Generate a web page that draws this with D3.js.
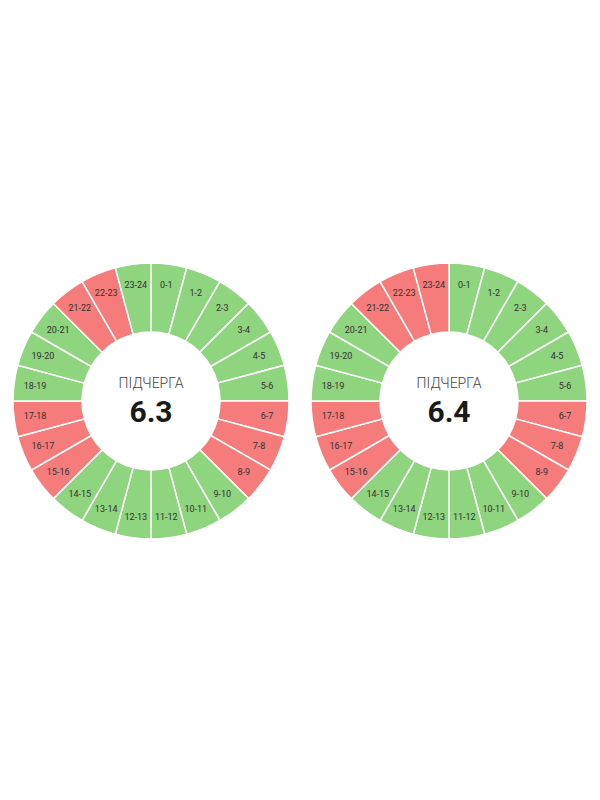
<!DOCTYPE html>
<html><head><meta charset="utf-8">
<script src="https://cdn.jsdelivr.net/npm/d3@7"></script>
<style>body{margin:0;background:#fff}</style></head>
<body><div id="main"></div>
<script>
const hours = d3.range(24).map(i => `${i}-${i + 1}`);
const titles = ["6.3", "6.4"];
// 1 = off (red), 0 = on (green)
const offLeft = [0,0,0,0,0,0,1,1,1,0,0,0,0,0,0,1,1,1,0,0,0,1,1,0];
const offRight = [0,0,0,0,0,0,1,1,1,0,0,0,0,0,0,1,1,1,0,0,0,1,1,1];
const charts = [{title: titles[0], off: offLeft, cx: 151}, {title: titles[1], off: offRight, cx: 449}];

const W = 600, H = 800, cy = 401, R = 138, r0 = 69;
const svg = d3.select("#main").append("svg").attr("width", W).attr("height", H);
const ang = d3.scaleLinear().domain([0, 24]).range([0, 2 * Math.PI]);

function pt(a, r) { return [r * Math.sin(a), -r * Math.cos(a)]; }

charts.forEach(c => {
  const g = svg.append("g").attr("transform", `translate(${c.cx},${cy})`);
  const arc = d3.arc().innerRadius(r0).outerRadius(R);
  g.selectAll("path").data(hours).enter().append("path")
    .attr("d", (d, i) => arc({startAngle: ang(i), endAngle: ang(i + 1)}))
    .attr("fill", (d, i) => c.off[i] ? "#f67b7b" : "#8fd47e")
    .attr("stroke", "#fff").attr("stroke-width", 1.5);
  g.selectAll("text.h").data(hours).enter().append("text")
    .attr("class", "h")
    .attr("x", (d, i) => pt(ang(i + 0.5), 117)[0])
    .attr("y", (d, i) => pt(ang(i + 0.5), 117)[1])
    .attr("text-anchor", "middle").attr("dy", "0.35em")
    .style("font", "9px Roboto, sans-serif").attr("fill", "#333")
    .text(d => d);
  g.append("text").attr("y", -13).attr("text-anchor", "middle")
    .style("font", "300 14px Roboto, sans-serif").attr("fill", "#444").text("ПІДЧЕРГА");
  g.append("text").attr("y", 21).attr("text-anchor", "middle")
    .style("font", "bold 30px Roboto, sans-serif").attr("fill", "#1a1a1a").text(c.title);
});
</script></body></html>
